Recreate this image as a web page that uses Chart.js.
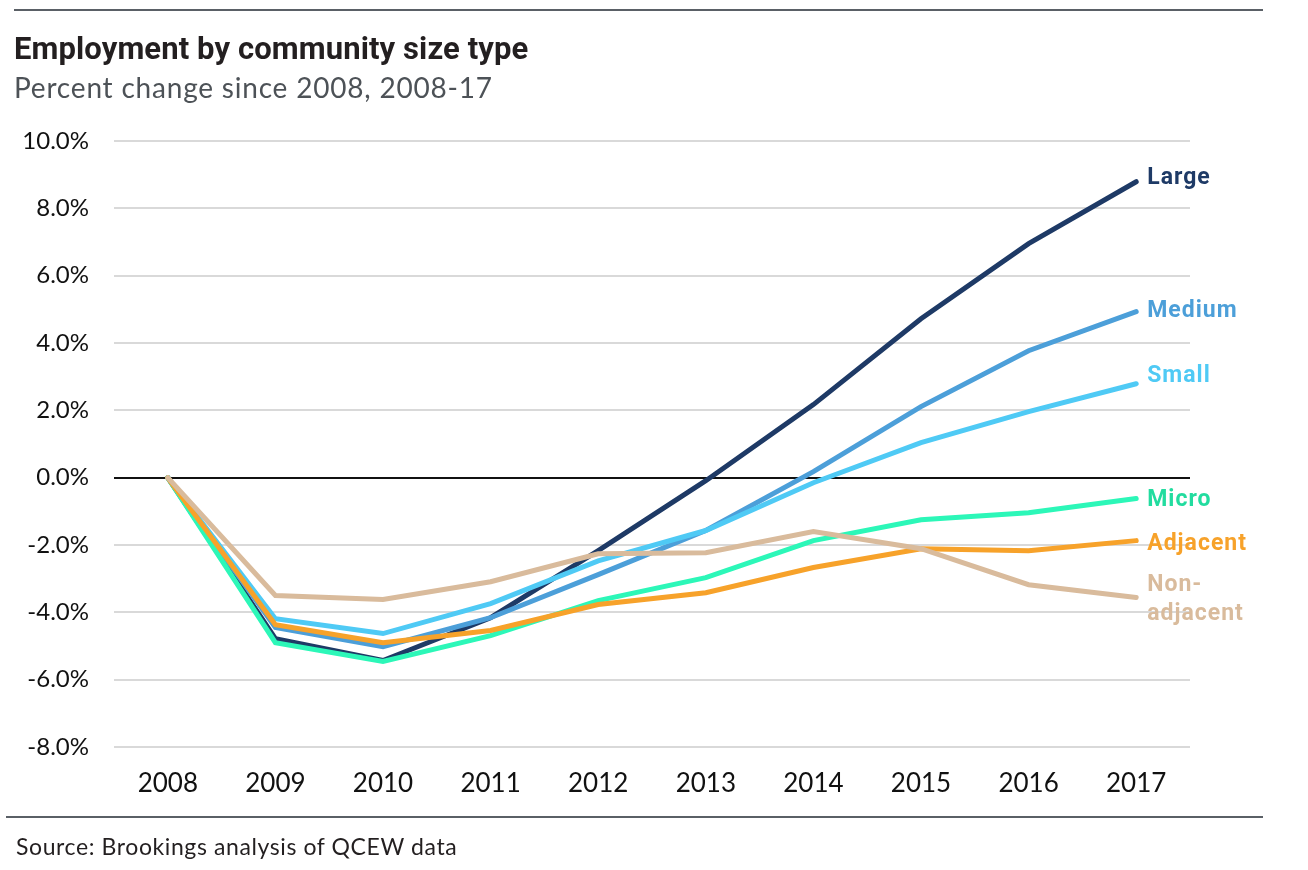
<!DOCTYPE html>
<html>
<head>
<meta charset="utf-8">
<script src="https://cdn.jsdelivr.net/npm/chart.js@4"></script>
<style>
    body { margin: 0; background: #fff; }
    #wrap { position: relative; width: 1308px; height: 870px; overflow: hidden; }
    #chart { position: absolute; left: 0; top: 0; }
    .rule { position: absolute; height: 2px; background: #5a6066; }
    .txt { position: absolute; white-space: nowrap; line-height: 1; }
    #title { left: 14px; top: 30px; font: bold 31px Roboto, sans-serif; letter-spacing: 0.1px; color: #231f20; }
    #subtitle { left: 14px; top: 70px; font: 28px Lato, sans-serif; letter-spacing: 0.8px; color: #4d5257; }
    #source { left: 16px; top: 832px; font: 23px Lato, sans-serif; letter-spacing: 0.6px; color: #231f20; }
</style>
</head>
<body>
<div id="wrap">
    <canvas id="chart" width="1308" height="870"></canvas>
    <div class="rule" style="left:14px; top:9px; width:1249px;"></div>
    <div class="txt" id="title">Employment by community size type</div>
    <div class="txt" id="subtitle">Percent change since 2008, 2008-17</div>
    <div class="rule" style="left:6px; top:816px; width:1257px;"></div>
    <div class="txt" id="source">Source: Brookings analysis of QCEW data</div>
</div>
<script>
// Datos
var anios = ['2008', '2009', '2010', '2011', '2012', '2013', '2014', '2015', '2016', '2017'];
var yTicks = [-8, -6, -4, -2, 0, 2, 4, 6, 8, 10];

var large       = [0, -4.78, -5.43, -4.16, -2.17, -0.09, 2.17, 4.72, 6.95, 8.79];
var medium      = [0, -4.45, -5.02, -4.16, -2.88, -1.57, 0.18, 2.11, 3.77, 4.93];
var small       = [0, -4.19, -4.63, -3.74, -2.47, -1.57, -0.15, 1.04, 1.96, 2.79];
var micro       = [0, -4.90, -5.46, -4.69, -3.65, -2.97, -1.87, -1.25, -1.04, -0.62];
var adjacent    = [0, -4.37, -4.90, -4.54, -3.77, -3.42, -2.67, -2.11, -2.17, -1.87];
var nonAdjacent = [0, -3.50, -3.62, -3.09, -2.26, -2.23, -1.60, -2.11, -3.18, -3.56];

var series = [
    { label: 'Large', data: large, color: '#1e3a66', text: '#1e3a66', lines: ['Large'], dy: -3, order: 6 },
    { label: 'Medium', data: medium, color: '#4c9fd9', text: '#4c9fd9', lines: ['Medium'], dy: 0, order: 5 },
    { label: 'Small', data: small, color: '#4fcaf5', text: '#4fcaf5', lines: ['Small'], dy: -7, order: 4 },
    { label: 'Micro', data: micro, color: '#2cf7b8', text: '#22dc9f', lines: ['Micro'], dy: 2, order: 3 },
    { label: 'Adjacent', data: adjacent, color: '#f7a22a', text: '#f7a22a', lines: ['Adjacent'], dy: 4, order: 2 },
    { label: 'Non-adjacent', data: nonAdjacent, color: '#d9bb9c', text: '#d9bb9c', lines: ['Non-', 'adjacent'], dy: 2, order: 1 }
];

// Etiquetas al final de cada linea
var etiquetasFinales = {
    id: 'etiquetasFinales',
    afterDatasetsDraw: function (chart) {
        var ctx = chart.ctx;
        ctx.save();
        ctx.font = 'bold 23px Roboto, sans-serif';
        ctx.letterSpacing = '1px';
        ctx.textAlign = 'left';
        ctx.textBaseline = 'middle';
        series.forEach(function (s, i) {
            var meta = chart.getDatasetMeta(i);
            var pt = meta.data[meta.data.length - 1];
            ctx.fillStyle = s.text;
            var n = s.lines.length;
            s.lines.forEach(function (line, j) {
                var y = pt.y + s.dy + (j - (n - 1) / 2) * 29;
                ctx.fillText(line, pt.x + 11, y);
            });
        });
        ctx.restore();
    }
};

var ctx = document.getElementById('chart').getContext('2d');

var myChart = new Chart(ctx, {
    type: 'line',
    data: {
        labels: anios,
        datasets: series.map(function (s) {
            return {
                label: s.label,
                data: s.data,
                borderColor: s.color,
                backgroundColor: s.color,
                borderWidth: 5,
                borderCapStyle: 'round',
                borderJoinStyle: 'miter',
                pointRadius: 0,
                tension: 0,
                order: s.order
            };
        })
    },
    options: {
        responsive: false,
        animation: false,
        devicePixelRatio: 1,
        layout: {
            padding: { top: 141, right: 118, bottom: 73, left: 0 }
        },
        scales: {
            x: {
                offset: true,
                grid: { display: false, drawTicks: false },
                border: { display: false },
                ticks: {
                    padding: 21,
                    color: '#111',
                    font: { family: 'Lato, sans-serif', size: 26 }
                },
                afterFit: function (scale) { scale.height = 50; }
            },
            y: {
                min: -8,
                max: 10,
                afterBuildTicks: function (scale) {
                    scale.ticks = yTicks.map(function (v) { return { value: v }; });
                },
                grid: {
                    drawTicks: false,
                    color: function (c) { return c.tick && c.tick.value === 0 ? '#111' : '#d9d9d9'; },
                    lineWidth: 2
                },
                border: { display: false },
                ticks: {
                    padding: 25,
                    color: '#111',
                    font: { family: 'Lato, sans-serif', size: 24 },
                    callback: function (v) { return v.toFixed(1) + '%'; }
                },
                afterFit: function (scale) { scale.width = 114; }
            }
        },
        plugins: {
            legend: { display: false },
            tooltip: { enabled: false }
        }
    },
    plugins: [etiquetasFinales]
});
</script>
</body>
</html>
